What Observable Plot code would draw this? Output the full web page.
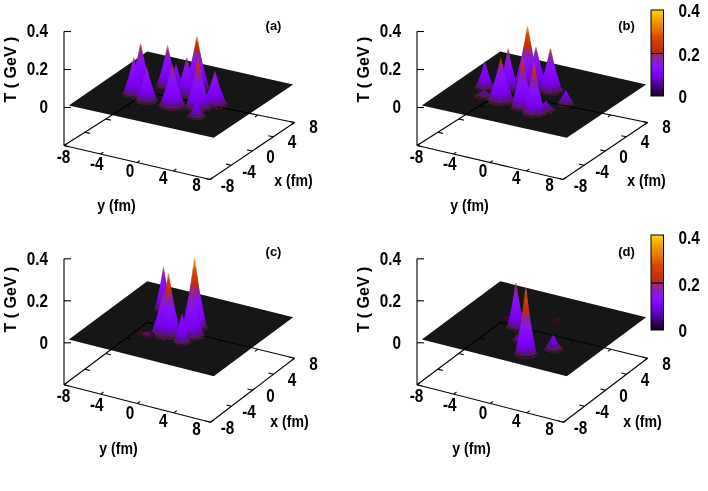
<!DOCTYPE html>
<html><head><meta charset="utf-8">
<script src="https://cdn.jsdelivr.net/npm/d3@7"></script>
<script src="https://cdn.jsdelivr.net/npm/@observablehq/plot@0.6"></script>
<style>html,body{margin:0;padding:0;background:#fff}svg{display:block;filter:blur(.3px)}</style>
</head><body><div id="chart"></div>
<script>
// ---- values (fm, GeV) ----
const panelNames = ["(a)", "(b)", "(c)", "(d)"];
const axisTicksFm = [-8, -4, 0, 4, 8];
const tempTicks = [0, 0.2, 0.4];
const colorbarTicks = [0, 0.2, 0.4];

const peaksA_y = [-4.44, -4.0, -2.13, -2.2, -1.3, 0.62, 0.4, 0.43, 2.95, 3.95, 3.97];
const peaksA_x = [0.05, -2.15, -3.0, 1.39, 1.43, -2.84, 0.48, 2.48, -1.94, -0.36, -4.09];
const peaksA_T = [0.22, 0.19, 0.175, 0.21, 0.12, 0.214, 0.19, 0.267, 0.255, 0.17, 0.07];
const peaksA_R = [1.1, 1.1, 1.1, 1.1, 0.85, 1.3, 1.15, 1.25, 1.25, 1.2, 0.9];

const peaksB_y = [-4.94, -3.95, -2.07, -2.88, -1.67, -0.97, 0.55, 2.31, 0.84, 3.73, 2.9];
const peaksB_x = [-0.83, -2.81, -2.87, 0.12, 1.82, 2.24, -3.29, -4.18, 1.83, -0.37, -2.86];
const peaksB_T = [0.135, 0.03, 0.22, 0.21, 0.31, 0.2, 0.26, 0.27, 0.22, 0.07, 0.05];
const peaksB_R = [0.95, 0.95, 1.3, 1.0, 1.35, 1.15, 1.15, 1.1, 1.2, 0.85, 0.9];

const peaksC_y = [-2.1, -3.58, -0.81, -0.39, 1.0, 1.68, 1.63];
const peaksC_x = [-3.02, 3.11, -2.0, -1.76, 0.96, -0.87, -2.77];
const peaksC_T = [0.012, 0.2, 0.2, 0.29, 0.33, 0.2, 0.135];
const peaksC_R = [0.8, 0.9, 1.25, 1.25, 1.25, 1.25, 0.85];

const peaksD_y = [-3.33, 1.02, -1.6, 0.02, 3.89, 2.19];
const peaksD_x = [0.79, 2.97, -0.67, -3.34, -3.19, -5.63];
const peaksD_T = [0.004, 0.004, 0.214, 0.03, 0.065, 0.32];
const peaksD_R = [0.6, 0.6, 0.9, 0.5, 0.9, 1.1];

// shared peak shape: radius fraction against height fraction
const profileHeight = [0, 0.04, 0.15, 0.3, 0.5, 0.75, 1];
const profileRadius = [1, 0.9, 0.78, 0.62, 0.42, 0.22, 0.05];

// colour palette stops
const paletteT = [0, 0.008, 0.02, 0.05, 0.13, 0.165, 0.19, 0.205, 0.27, 0.3, 0.35, 0.4];
const paletteC = ["#2a1020", "#5a1a50", "#5a1090", "#7a00f0", "#8a10ff", "#8a20b0", "#a02870", "#c02a10", "#d84800", "#e87000", "#f0a000", "#ffe000"];
const barT = [0, 0.03, 0.08, 0.13, 0.165, 0.19, 0.205, 0.27, 0.3, 0.35, 0.4];
const barC = ["#1a0020", "#3a0070", "#7000e0", "#8a10ff", "#8a20b0", "#a02870", "#c02a10", "#d84800", "#e87000", "#f0a000", "#ffe000"];

// ---- layout of the four panels (projection frame, in page units) ----
const rowTop = {
  surf: {L: [68.3, 105], T: [146.7, 51], R: [292.7, 84], B: [213.3, 137.3]},
  base: {L: [63.5, 145], T: [147, 92], R: [294, 122], B: [209.5, 179]},
  zAxis: 107, zScale: 190, top: 31,
  yLab: [[63, 157], [196, 185]], xLab: [[227, 186], [313, 127]],
  yTitle: [116, 205], xTitle: [293, 180], name: [273, 25], tTitle: 69
};
const rowBottom = {
  surf: {L: [68.3, 339], T: [146.7, 280.7], R: [292.7, 316.7], B: [213.3, 375.7]},
  base: {L: [63.5, 384.3], T: [147, 321.7], R: [294, 357.7], B: [210, 421.7]},
  zAxis: 342.3, zScale: 210, top: 258.3,
  yLab: [[63, 396], [196, 429]], xLab: [[227, 428], [313, 364]],
  yTitle: [118, 448], xTitle: [289, 421], name: [273, 251], tTitle: 299
};
const panels = [
  {row: rowTop, dx: 0, y: peaksA_y, x: peaksA_x, T: peaksA_T, R: peaksA_R},
  {row: rowTop, dx: 353, y: peaksB_y, x: peaksB_x, T: peaksB_T, R: peaksB_R, bar: {y0: 96, y1: 10, lab: [97, 55, 11]}},
  {row: rowBottom, dx: 0, y: peaksC_y, x: peaksC_x, T: peaksC_T, R: peaksC_R},
  {row: rowBottom, dx: 353, y: peaksD_y, x: peaksD_x, T: peaksD_T, R: peaksD_R, bar: {y0: 330, y1: 235, lab: [331, 285, 238]}}
];

const frac = v => (v + 8) / 16;
const proj = (q, y, x, p) => {
  const u = frac(y), v = frac(x);
  const px = (1-u)*(1-v)*q.L[0] + u*(1-v)*q.B[0] + u*v*q.R[0] + (1-u)*v*q.T[0];
  const py = (1-u)*(1-v)*q.L[1] + u*(1-v)*q.B[1] + u*v*q.R[1] + (1-u)*v*q.T[1];
  return [px + p.dx, py];
};

const shape = d3.scaleLinear(profileHeight, profileRadius);
const pal = d3.scaleLinear(paletteT, paletteC).interpolate(d3.interpolateRgb);
const barPal = d3.scaleLinear(barT, barC).interpolate(d3.interpolateRgb);

const surfaces = [], discs = [], lines = [], labels = [], barCells = [], barLines = [], barMid = [], skirt = [];
const levels = d3.range(0, 1.001, 1 / 60);
const around = d3.range(0, 2 * Math.PI, 2 * Math.PI / 20);
const lattice = d3.range(-2, 2.01, 0.25);
let pid = 0;

panels.forEach((p, i) => {
  const r = p.row;
  for (const k of ["L", "T", "R", "B"]) surfaces.push({id: i, px: r.surf[k][0] + p.dx, py: r.surf[k][1]});
  const seg = (a, b) => lines.push({x1: a[0], y1: a[1], x2: b[0], y2: b[1]});
  const B = (y, x) => proj(r.base, y, x, p);
  seg(B(-8, -8), B(8, -8)); seg(B(8, -8), B(8, 8)); seg(B(8, 8), B(-8, 8)); seg(B(-8, 8), B(-8, -8));
  const tick = 0.55;
  for (const t of axisTicksFm) {
    seg(B(t, -8), B(t, -8 + tick)); seg(B(t, 8), B(t, 8 - tick));
    seg(B(-8, t), B(-8 + tick, t)); seg(B(8, t), B(8 - tick, t));
  }
  const ax = r.base.L[0] + p.dx;
  lines.push({x1: ax, y1: r.base.L[1], x2: ax, y2: r.top});
  for (const t of tempTicks) {
    const yy = r.zAxis - t * r.zScale;
    lines.push({x1: ax, y1: yy, x2: ax + 7, y2: yy});
    labels.push({x: ax - 16, y: yy, text: String(t), anchor: "end", size: 18});
  }
  axisTicksFm.forEach(t => {
    const u = frac(t);
    labels.push({x: r.yLab[0][0] + u * (r.yLab[1][0] - r.yLab[0][0]) + p.dx, y: r.yLab[0][1] + u * (r.yLab[1][1] - r.yLab[0][1]), text: String(t), size: 18});
    labels.push({x: r.xLab[0][0] + u * (r.xLab[1][0] - r.xLab[0][0]) + p.dx, y: r.xLab[0][1] + u * (r.xLab[1][1] - r.xLab[0][1]), text: String(t), size: 18});
  });
  labels.push({x: r.yTitle[0] + p.dx, y: r.yTitle[1], text: "y (fm)", size: 16});
  labels.push({x: r.xTitle[0] + p.dx, y: r.xTitle[1], text: "x (fm)", size: 16});
  labels.push({x: r.name[0] + p.dx, y: r.name[1], text: panelNames[i], size: 13});
  labels.push({x: 10 + p.dx, y: r.tTitle, text: "T ( GeV )", size: 16, rotate: -90});

  const order = d3.range(p.T.length).sort((a, b) => proj(r.surf, p.y[a], p.x[a], p)[1] - proj(r.surf, p.y[b], p.x[b], p)[1]);
  for (const k of order) {
    for (const ly of lattice) for (const lx of lattice) {
      const dd = Math.hypot(ly, lx);
      if (dd <= p.R[k] * 1.06 && dd > p.R[k] * 0.6) {
        const q = proj(r.surf, p.y[k] + ly, p.x[k] + lx, p);
        skirt.push({px: q[0], py: q[1]});
      }
    }
    for (const h of levels) {
      if (p.T[k] * h < 0.006 && p.T[k] > 0.02) continue;
      pid++;
      const rad = p.R[k] * shape(h), T = p.T[k] * h;
      for (const a of around) {
        const q = proj(r.surf, p.y[k] + rad * Math.cos(a), p.x[k] + rad * Math.sin(a), p);
        discs.push({id: pid, px: q[0], py: q[1] - T * r.zScale, T});
      }
    }
  }
  if (p.bar) {
    const bx0 = 298 + p.dx, bx1 = 310.5 + p.dx, f = t => p.bar.y0 + (p.bar.y1 - p.bar.y0) * t / 0.4;
    d3.range(0, 0.4, 0.4 / 36).forEach((t, j) => barCells.push({x1: bx0, x2: bx1, y1: f(t), y2: j === 35 ? f(0.4) : f(t + 0.4 / 36) - 0.7, c: barPal(t)}));
    barLines.push({x1: bx0, x2: bx1, y1: p.bar.y0, y2: p.bar.y1});
    barMid.push({x1: bx0, y1: f(0.2), x2: bx1, y2: f(0.2)});
    colorbarTicks.forEach((t, j) => labels.push({x: 325 + p.dx, y: p.bar.lab[j], text: String(t), anchor: "start", size: 18}));
  }
});

const font = "'Liberation Sans',Arial,sans-serif";
const txt = (rows, size, extra = {}) => Plot.text(rows, {x: "x", y: "y", text: "text", fontSize: size, fontWeight: "bold", fill: "#000", textAnchor: "middle", lineAnchor: "middle", ...extra});

const chart = Plot.plot({
  width: 708, height: 491, margin: 0,
  style: {background: "#fff", fontFamily: font},
  x: {domain: [0, 708], range: [0, 708], axis: null},
  y: {domain: [0, 491], range: [0, 491], axis: null},
  color: {type: "linear", domain: [0, 0.4], interpolate: t => pal(t * 0.4)},
  marks: [
    Plot.line(surfaces, {x: "px", y: "py", z: "id", fill: "#161616", stroke: "none", curve: "linear"}),
    Plot.link(lines, {x1: "x1", y1: "y1", x2: "x2", y2: "y2", stroke: "#000", strokeWidth: 1.1}),
    Plot.dot(skirt, {x: "px", y: "py", r: 0.6, fill: "#6a2058", stroke: "none"}),
    Plot.line(discs, {x: "px", y: "py", z: "id", fill: "T", stroke: "none", curve: "linear"}),
    Plot.rect(barCells, {x1: "x1", x2: "x2", y1: "y1", y2: "y2", fill: d => d.c}),
    Plot.rect(barLines, {x1: "x1", x2: "x2", y1: "y1", y2: "y2", fill: "none", stroke: "#000", strokeWidth: 1}),
    Plot.link(barMid, {x1: "x1", y1: "y1", x2: "x2", y2: "y2", stroke: "#000", strokeWidth: 1.2}),
    txt(labels.filter(d => !d.anchor && !d.rotate && d.size === 18), 18),
    txt(labels.filter(d => d.anchor === "end"), 18, {textAnchor: "end"}),
    txt(labels.filter(d => d.anchor === "start"), 18, {textAnchor: "start"}),
    txt(labels.filter(d => d.size === 16 && !d.rotate), 16),
    txt(labels.filter(d => d.size === 13), 13),
    txt(labels.filter(d => d.rotate), 16, {rotate: -90})
  ]
});
document.getElementById("chart").append(chart);
d3.select(chart).selectAll("text").each(function () {
  const s = this.textContent;
  const k = s.includes("GeV") || s.startsWith("(") ? 1 : s.includes("fm") ? 0.88 : 0.85;
  if (k < 1) {
    this.setAttribute("textLength", this.getComputedTextLength() * k);
    this.setAttribute("lengthAdjust", "spacingAndGlyphs");
  }
});
</script></body></html>
